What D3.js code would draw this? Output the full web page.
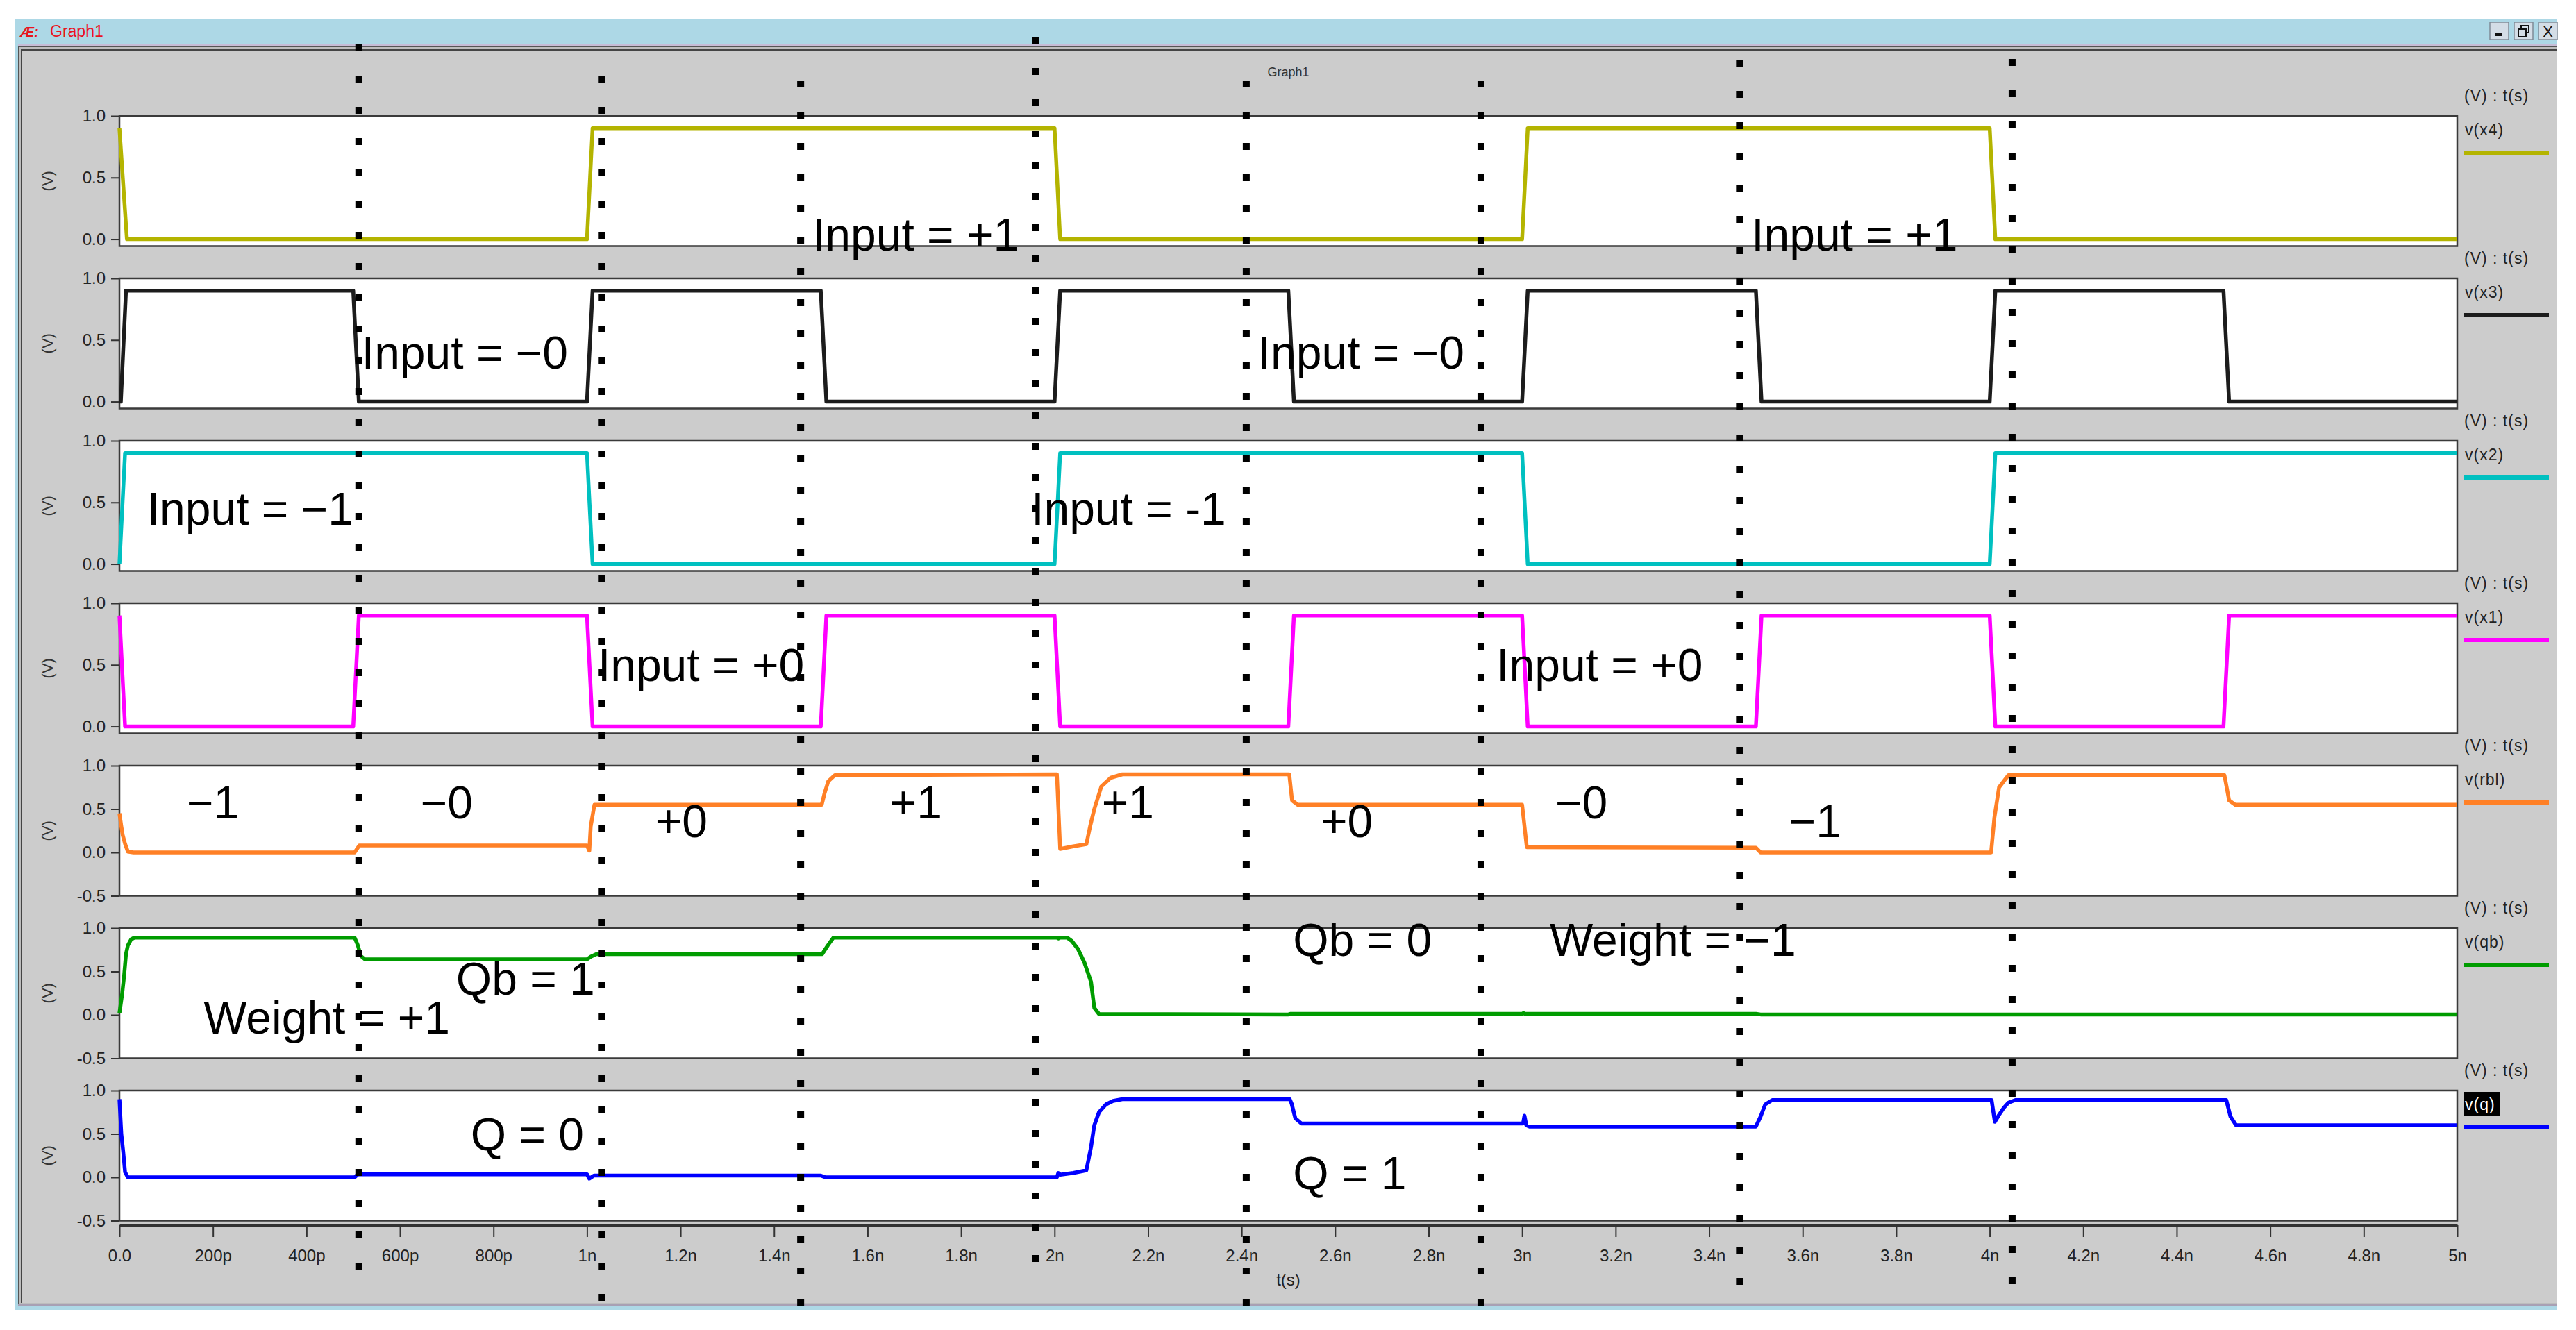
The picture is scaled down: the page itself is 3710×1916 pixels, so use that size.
<!DOCTYPE html>
<html>
<head>
<meta charset="utf-8">
<script src="https://cdn.jsdelivr.net/npm/d3@7"></script>
<style>
  body { margin: 0; background: #fff; }
  svg  { display: block; }
  text { font-family: "Liberation Sans", Arial, Helvetica, sans-serif; }
</style>
</head>
<body>
<svg id="chart" width="3710" height="1916"></svg>
<script>
"use strict";

// ==========  Data  ==========
var signalNames = ["v(x4)", "v(x3)", "v(x2)", "v(x1)", "v(rbl)", "v(qb)", "v(q)"]

var timeTicks      = [0, 0.2, 0.4, 0.6, 0.8, 1, 1.2, 1.4, 1.6, 1.8, 2, 2.2, 2.4, 2.6, 2.8,
                      3, 3.2, 3.4, 3.6, 3.8, 4, 4.2, 4.4, 4.6, 4.8, 5]
var timeTickLabels = ["0.0", "200p", "400p", "600p", "800p", "1n", "1.2n", "1.4n", "1.6n", "1.8n",
                      "2n", "2.2n", "2.4n", "2.6n", "2.8n", "3n", "3.2n", "3.4n", "3.6n", "3.8n",
                      "4n", "4.2n", "4.4n", "4.6n", "4.8n", "5n"]

var inputTicks  = [0, 0.5, 1.0]          // rows x4..x1
var outputTicks = [-0.5, 0, 0.5, 1.0]    // rows rbl, qb, q
var rowDomains  = [[-0.056, 1], [-0.056, 1], [-0.056, 1], [-0.056, 1], [-0.5, 1], [-0.5, 1], [-0.5, 1]]

// [t (ns), V]
var vx4 = [[0, 0.9], [0.016, 0], [1.0, 0], [1.012, 0.9], [2.0, 0.9], [2.012, 0], [3.0, 0], [3.012, 0.9],
           [4.0, 0.9], [4.012, 0], [5, 0]]
var vx3 = [[0, 0], [0.003, 0], [0.014, 0.9], [0.5, 0.9], [0.512, 0], [1.0, 0], [1.012, 0.9], [1.5, 0.9],
           [1.512, 0], [2.0, 0], [2.012, 0.9], [2.5, 0.9], [2.512, 0], [3.0, 0], [3.012, 0.9], [3.5, 0.9],
           [3.512, 0], [4.0, 0], [4.012, 0.9], [4.5, 0.9], [4.512, 0], [5, 0]]
var vx2 = [[0, 0], [0.012, 0.9], [1.0, 0.9], [1.012, 0], [2.0, 0], [2.012, 0.9], [3.0, 0.9], [3.012, 0],
           [4.0, 0], [4.012, 0.9], [5, 0.9]]
var vx1 = [[0, 0.9], [0.012, 0], [0.5, 0], [0.512, 0.9], [1.0, 0.9], [1.012, 0], [1.5, 0], [1.512, 0.9],
           [2.0, 0.9], [2.012, 0], [2.5, 0], [2.512, 0.9], [3.0, 0.9], [3.012, 0], [3.5, 0], [3.512, 0.9],
           [4.0, 0.9], [4.012, 0], [4.5, 0], [4.512, 0.9], [5, 0.9]]
var vrbl = [[0, 0.45], [0.004, 0.3], [0.007, 0.2], [0.012, 0.1], [0.018, 0.01], [0.03, 0],
            [0.503, 0], [0.513, 0.08], [1.0, 0.08], [1.005, 0.02], [1.008, 0.3], [1.016, 0.55],
            [1.502, 0.55], [1.508, 0.68], [1.516, 0.82], [1.53, 0.89],
            [2.005, 0.9], [2.012, 0.04], [2.04, 0.07], [2.068, 0.095], [2.076, 0.3], [2.085, 0.5],
            [2.1, 0.76], [2.12, 0.86], [2.145, 0.9],
            [2.502, 0.9], [2.508, 0.6], [2.52, 0.55], [3.0, 0.55], [3.01, 0.06],
            [3.5, 0.055], [3.51, 0], [4.003, 0], [4.01, 0.4], [4.02, 0.75], [4.04, 0.89],
            [4.502, 0.89], [4.512, 0.6], [4.525, 0.55], [5, 0.55]]
var vqb = [[0, 0.02], [0.006, 0.25], [0.01, 0.45], [0.014, 0.7], [0.018, 0.8], [0.025, 0.87], [0.032, 0.89],
           [0.503, 0.89], [0.51, 0.8], [0.516, 0.68], [0.525, 0.64], [1.0, 0.64], [1.008, 0.67],
           [1.012, 0.68], [1.02, 0.7], [1.503, 0.7], [1.515, 0.8], [1.527, 0.89],
           [2.005, 0.89], [2.008, 0.88], [2.012, 0.89], [2.027, 0.89], [2.037, 0.85], [2.05, 0.76],
           [2.064, 0.6], [2.078, 0.38], [2.085, 0.08], [2.095, 0.01],
           [2.5, 0.005], [2.505, 0.012], [3.0, 0.012], [3.003, 0.02], [3.006, 0.012],
           [3.5, 0.012], [3.51, 0.005], [5, 0.005]]
var vq = [[0, 0.9], [0.004, 0.5], [0.008, 0.3], [0.012, 0.06], [0.018, 0],
          [0.503, 0], [0.51, 0.035], [1.0, 0.035], [1.005, -0.015], [1.015, 0.02], [1.5, 0.02], [1.51, 0],
          [2.005, 0], [2.008, 0.05], [2.012, 0.03], [2.04, 0.05], [2.068, 0.08], [2.078, 0.35],
          [2.085, 0.6], [2.095, 0.75], [2.11, 0.84], [2.125, 0.88], [2.145, 0.9],
          [2.503, 0.9], [2.507, 0.85], [2.515, 0.68], [2.528, 0.62],
          [3.002, 0.62], [3.005, 0.71], [3.009, 0.6], [3.015, 0.585],
          [3.5, 0.585], [3.51, 0.7], [3.52, 0.84], [3.535, 0.89],
          [4.004, 0.89], [4.011, 0.64], [4.02, 0.72], [4.03, 0.8], [4.04, 0.86], [4.055, 0.89],
          [4.506, 0.89], [4.515, 0.7], [4.527, 0.6], [5, 0.6]]
var series = [vx4, vx3, vx2, vx1, vrbl, vqb, vq]

// hand-drawn dotted markers (time, ns)
var markerTimes = [0.512, 1.031, 1.457, 1.959, 2.41, 2.912, 3.465, 4.048]

// [text, t (ns), row, V at baseline]
var annotations = [
  ["Input = +1", 1.482, 0, -0.092], ["Input = +1", 3.49, 0, -0.092],
  ["Input = \u22120", 0.518, 1, 0.268], ["Input = \u22120", 2.435, 1, 0.268],
  ["Input = \u22121", 0.059, 2, 0.319], ["Input = -1", 1.95, 2, 0.319],
  ["Input = +0", 1.023, 3, 0.369], ["Input = +0", 2.945, 3, 0.369],
  ["\u22121", 0.144, 4, 0.392], ["\u22120", 0.644, 4, 0.392], ["+0", 1.146, 4, 0.176], ["+1", 1.648, 4, 0.392],
  ["+1", 2.101, 4, 0.392], ["+0", 2.569, 4, 0.176], ["\u22120", 3.071, 4, 0.392], ["\u22121", 3.571, 4, 0.176],
  ["Qb = 1", 0.72, 5, 0.232], ["Weight = +1", 0.18, 5, -0.216],
  ["Qb = 0", 2.51, 5, 0.68], ["Weight = \u22121", 3.059, 5, 0.68],
  ["Q = 0", 0.751, 6, 0.312], ["Q = 1", 2.51, 6, -0.136]
]

// ==========  Layout  ==========
var layout = { left: 172, right: 3539, top: 167, pitch: 234, height: 187.5, axisY: 1765 }
var colors = ["#b4b400", "#1c1c1c", "#00c0c0", "#ff00ff", "#ff8026", "#009c00", "#0000ff"]
var markerTops = [64, 109, 116, 53, 116, 116, 86, 85]   // top of first dot
var dotCount = 40, dotPitch = 45, dotSize = 10
var gray = "#cccccc"

var svg = d3.select("#chart")
var x = d3.scaleLinear().domain([0, 5]).range([layout.left, layout.right])
var rowTop = function(i) { return layout.top + i * layout.pitch }
var yScales = rowDomains.map(function(dom, i) {
  return d3.scaleLinear().domain(dom).range([rowTop(i) + layout.height, rowTop(i)])
})
var tickFmt = function(d) { return d3.format(".1f")(d).replace("\u2212", "-") }

// ==========  Window frame  ==========
svg.append("rect").attr("width", 3710).attr("height", 1916).attr("fill", "#fff")
svg.append("rect").attr("x", 22).attr("y", 27).attr("width", 3661).attr("height", 1860).attr("fill", "#add8e6")
svg.append("line").attr("x1", 22).attr("x2", 3683).attr("y1", 27.5).attr("y2", 27.5).attr("stroke", "#9aa").attr("stroke-width", 1)
svg.append("rect").attr("x", 26).attr("y", 63).attr("width", 3657).attr("height", 3).attr("fill", "#c6bcd6")
svg.append("rect").attr("x", 26).attr("y", 66).attr("width", 3657).attr("height", 1814).attr("fill", "#555")
svg.append("rect").attr("x", 28).attr("y", 68).attr("width", 3655).attr("height", 1810).attr("fill", "#bdbdbd")
svg.append("rect").attr("x", 30).attr("y", 71).attr("width", 3653).attr("height", 1806).attr("fill", "#444")
svg.append("rect").attr("x", 32).attr("y", 74).attr("width", 3651).attr("height", 1803).attr("fill", gray)
svg.append("rect").attr("x", 26).attr("y", 1878).attr("width", 3657).attr("height", 3).attr("fill", "#a8a0b4")

svg.append("text").attr("x", 29).attr("y", 53).attr("fill", "#e8141e")
   .attr("font-size", 20).attr("font-weight", "bold").attr("font-style", "italic").text("\u00c6:")
svg.append("text").attr("x", 72).attr("y", 53).attr("fill", "#e8141e").attr("font-size", 23).text("Graph1")

var buttons = [3586, 3621, 3656]
buttons.forEach(function(bx, i) {
  svg.append("rect").attr("x", bx).attr("y", 32).attr("width", 27).attr("height", 25)
     .attr("fill", "#d4dde6").attr("stroke", "#7f8a96").attr("stroke-width", 1.5)
  if (i == 0) svg.append("rect").attr("x", bx + 7).attr("y", 48).attr("width", 10).attr("height", 4).attr("fill", "#111")
  if (i == 1) {
    svg.append("rect").attr("x", bx + 10).attr("y", 37).attr("width", 11).attr("height", 10).attr("fill", "none").attr("stroke", "#111").attr("stroke-width", 2)
    svg.append("rect").attr("x", bx + 6).attr("y", 42).attr("width", 11).attr("height", 11).attr("fill", "#d4dde6").attr("stroke", "#111").attr("stroke-width", 2)
  }
  if (i == 2) svg.append("text").attr("x", bx + 13.5).attr("y", 53).attr("text-anchor", "middle")
                 .attr("font-size", 22).attr("fill", "#111").text("X")
})

svg.append("text").attr("x", (layout.left + layout.right) / 2).attr("y", 110).attr("text-anchor", "middle")
   .attr("font-size", 18).attr("fill", "#333").text("Graph1")

// ==========  Panels  ==========
var line = d3.line().x(function(d) { return x(d[0]) })

signalNames.forEach(function(name, i) {
  var y = yScales[i]
  var top = rowTop(i)
  var g = svg.append("g").attr("class", "panel")

  g.append("rect").attr("x", layout.left).attr("y", top)
   .attr("width", layout.right - layout.left).attr("height", layout.height)
   .attr("fill", "#fff").attr("stroke", "#3a3a3a").attr("stroke-width", 2.5)

  var axis = d3.axisLeft(y).tickValues(i < 4 ? inputTicks : outputTicks)
               .tickSize(12).tickPadding(8).tickFormat(tickFmt)
  var ga = g.append("g").attr("transform", "translate(" + layout.left + ",0)").call(axis)
  ga.select(".domain").remove()
  ga.selectAll(".tick line").attr("stroke", "#333").attr("stroke-width", 2)
  ga.selectAll(".tick text").attr("font-size", 24).attr("fill", "#222")
    .attr("font-family", "'Liberation Sans', Arial, sans-serif")

  g.append("text").attr("transform", "translate(76," + (top + layout.height / 2) + ") rotate(-90)")
   .attr("text-anchor", "middle").attr("font-size", 22).attr("fill", "#333").text("(V)")

  g.append("path").datum(series[i])
   .attr("d", line.y(function(d) { return y(d[1]) }))
   .attr("fill", "none").attr("stroke", colors[i]).attr("stroke-width", 5.5)
   .attr("stroke-linejoin", "round")

  // legend on the right
  g.append("text").attr("x", 3549).attr("y", top - 21).attr("font-size", 23)
   .attr("letter-spacing", 1).attr("fill", "#222").text("(V) : t(s)")
  if (i == signalNames.length - 1) {
    g.append("rect").attr("x", 3549).attr("y", top + 2).attr("width", 51).attr("height", 35).attr("fill", "#000")
  }
  g.append("text").attr("x", 3550).attr("y", top + 28).attr("font-size", 23).attr("letter-spacing", 1)
   .attr("fill", i == signalNames.length - 1 ? "#fff" : "#222").text(name)
  g.append("line").attr("x1", 3549).attr("x2", 3671).attr("y1", top + 53).attr("y2", top + 53)
   .attr("stroke", colors[i]).attr("stroke-width", 6)
})

// ==========  Time axis  ==========
var xAxis = d3.axisBottom(x).tickValues(timeTicks).tickSizeInner(17).tickSizeOuter(0).tickPadding(18)
              .tickFormat(function(d, i) { return timeTickLabels[i] })
var gx = svg.append("g").attr("transform", "translate(0," + layout.axisY + ")").call(xAxis)
gx.select(".domain").attr("stroke", "#333").attr("stroke-width", 3)
gx.selectAll(".tick line").attr("stroke", "#333").attr("stroke-width", 2)
gx.selectAll(".tick text").attr("font-size", 24).attr("fill", "#222")
  .attr("font-family", "'Liberation Sans', Arial, sans-serif")
svg.append("text").attr("x", (layout.left + layout.right) / 2).attr("y", 1852).attr("text-anchor", "middle")
   .attr("font-size", 24).attr("fill", "#222").text("t(s)")

// ==========  Annotations  ==========
svg.append("g").selectAll("text").data(annotations).join("text")
   .attr("x", function(d) { return x(d[1]) })
   .attr("y", function(d) { return yScales[d[2]](d[3]) })
   .attr("font-size", 66).attr("fill", "#000")
   .text(function(d) { return d[0] })

// dotted markers: square dots
svg.append("g").selectAll("line").data(markerTimes).join("line")
   .attr("x1", function(d) { return x(d) }).attr("x2", function(d) { return x(d) })
   .attr("y1", function(d, i) { return markerTops[i] })
   .attr("y2", function(d, i) { return markerTops[i] + (dotCount - 1) * dotPitch + dotSize })
   .attr("stroke", "#000").attr("stroke-width", dotSize)
   .attr("stroke-dasharray", dotSize + " " + (dotPitch - dotSize))
</script>
</body>
</html>
